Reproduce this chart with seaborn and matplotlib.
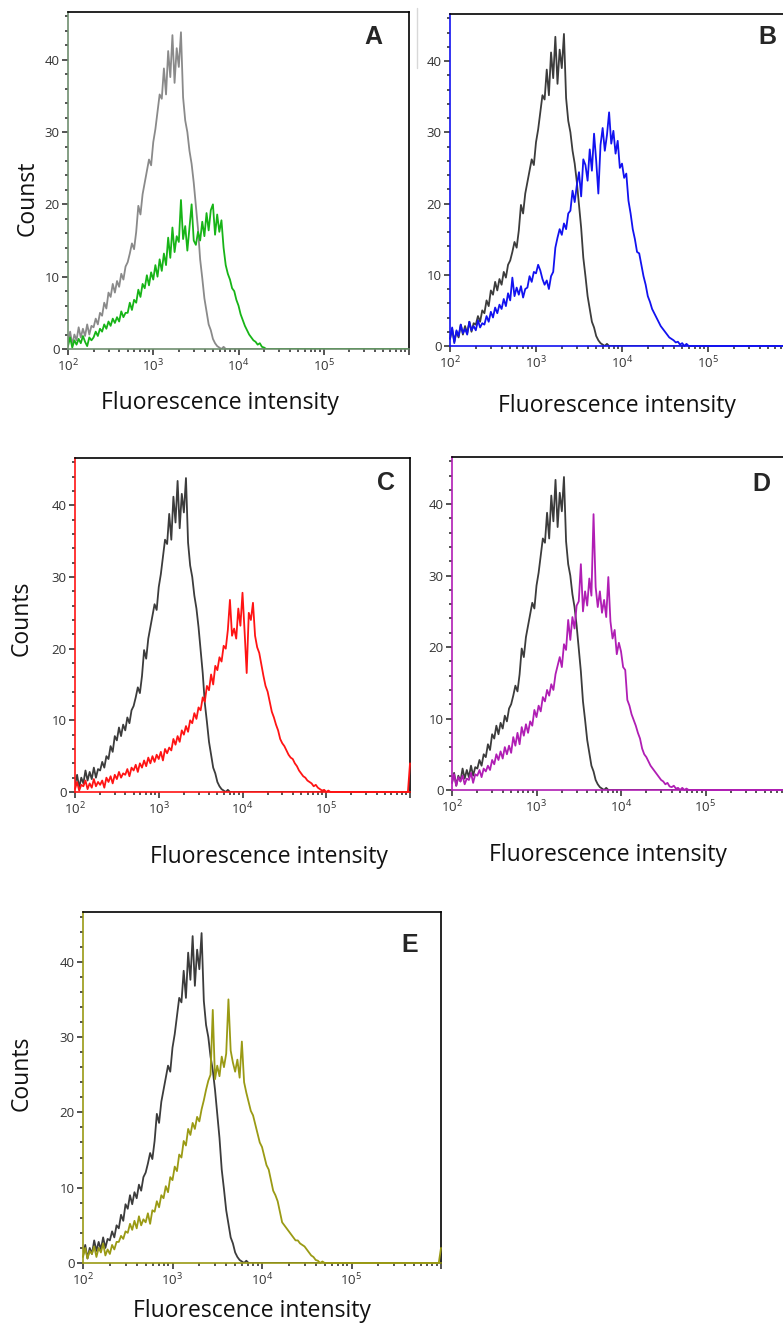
import numpy as np
import matplotlib.pyplot as plt
import matplotlib.ticker as mticker
from matplotlib.lines import Line2D
import seaborn as sns

sns.set_style('ticks')
plt.rcParams['font.family'] = ['Open Sans', 'DejaVu Sans']
plt.rcParams['mathtext.fontset'] = 'custom'
plt.rcParams['mathtext.rm'] = 'Open Sans'

# cytometer channels: 0.025 decade bins from 10^2 to 10^6
n_bins = 161
log_channel = 2.0 + 0.025 * np.arange(n_bins)
intensity = 10 ** log_channel

# counts, starting at 10^2 (rest of the bins are 0)
control = [1.0, 2.4, 0.6, 2.0, 1.2, 3.0, 1.6, 2.8, 1.8, 3.4, 2.0, 3.2,
           3.0, 4.2, 3.4, 5.0, 4.6, 6.4, 5.6, 7.8, 7.2, 9.0, 7.8, 9.4,
           8.6, 10.4, 9.6, 11.4, 12.0, 13.2, 14.6, 13.8, 16.2, 19.8, 18.6, 21.4,
           23.0, 24.6, 26.2, 25.4, 28.6, 30.4, 32.8, 35.2, 34.6, 38.8, 35.2, 41.2,
           37.6, 43.4, 36.8, 41.6, 39.0, 43.8, 34.8, 31.6, 30.0, 27.4, 25.6, 23.0,
           19.8, 16.6, 12.4, 9.8, 7.0, 5.2, 3.4, 2.6, 1.4, 0.8, 0.4, 0.2, 0.0, 0.3]

green = [0.4, 1.6, 0.2, 1.2, 0.6, 1.4, 0.8, 1.8, 1.0, 0.4, 1.6, 1.2,
         1.6, 2.4, 1.8, 2.8, 2.4, 3.4, 2.8, 3.8, 3.2, 4.2, 3.6, 4.4,
         3.8, 5.2, 4.4, 5.0, 5.0, 6.4, 5.4, 6.8, 6.4, 8.2, 7.2, 9.0,
         8.4, 10.2, 8.8, 10.6, 9.6, 11.6, 10.0, 12.4, 10.8, 13.2, 11.6, 15.4,
         12.6, 16.8, 13.4, 15.6, 14.8, 20.6, 15.2, 17.0, 13.6, 16.8, 20.0, 15.0,
         14.4, 16.2, 15.0, 17.6, 15.6, 18.8, 16.4, 19.2, 20.0, 15.8, 18.6, 16.2,
         17.8, 14.0, 11.6, 10.4, 9.6, 8.4, 8.0, 6.8, 6.0, 4.8, 4.0, 3.2,
         2.6, 2.0, 1.6, 1.2, 1.0, 0.6, 0.8, 0.3, 0.2, 0.0]

blue = [1.0, 2.6, 0.4, 2.2, 1.4, 3.0, 1.8, 2.4, 1.6, 3.4, 2.2, 2.8,
        2.2, 3.6, 2.6, 3.2, 3.0, 4.2, 3.4, 4.8, 4.0, 5.4, 4.6, 5.8,
        5.2, 6.6, 5.6, 7.4, 6.4, 9.6, 7.0, 8.2, 7.2, 8.4, 6.8, 8.0,
        8.2, 9.8, 9.0, 10.4, 10.2, 11.4, 10.6, 9.4, 8.6, 9.2, 8.0, 9.8,
        10.4, 13.8, 15.2, 16.4, 15.6, 17.2, 16.4, 18.6, 19.0, 21.8, 20.2, 22.6,
        24.4, 21.0, 26.2, 25.4, 23.2, 27.6, 24.6, 29.8, 26.0, 21.4, 28.2, 30.6,
        27.4, 29.6, 32.8, 28.4, 30.2, 27.0, 28.8, 25.0, 25.6, 23.6, 24.2, 20.4,
        18.6, 16.4, 15.0, 13.2, 13.0, 11.4, 9.8, 8.6, 7.0, 6.2, 5.2, 4.6,
        4.0, 3.4, 2.8, 2.4, 2.0, 1.6, 1.2, 1.0, 0.8, 0.5, 0.6, 0.2,
        0.4, 0.0, 0.3, 0.0]

red = [0.4, 1.4, 0.2, 1.0, 0.8, 1.6, 0.4, 1.2, 0.6, 1.8, 0.8, 1.4,
       1.0, 1.6, 0.6, 2.0, 1.4, 2.2, 1.2, 2.4, 1.8, 2.8, 2.0, 2.6,
       2.4, 3.2, 2.2, 3.4, 3.0, 3.8, 2.8, 4.0, 3.4, 4.4, 3.6, 4.8,
       4.0, 5.0, 4.2, 5.2, 4.6, 5.6, 4.4, 6.0, 5.4, 6.2, 5.8, 7.4,
       6.6, 7.8, 7.0, 8.6, 8.0, 9.2, 8.4, 10.0, 9.6, 11.0, 10.2, 11.8,
       11.4, 13.2, 12.6, 14.8, 14.2, 16.4, 15.0, 17.6, 17.0, 18.8, 18.2, 20.4,
       20.0, 22.6, 26.8, 21.8, 22.8, 21.4, 25.6, 23.2, 27.8, 22.4, 16.6, 25.0,
       24.0, 26.4, 21.8, 20.2, 19.4, 17.8, 16.2, 14.8, 14.0, 12.6, 11.2, 10.4,
       9.4, 8.6, 7.4, 6.8, 6.4, 5.8, 5.2, 4.8, 4.6, 4.0, 3.6, 3.0,
       2.6, 2.2, 2.0, 1.6, 1.4, 1.2, 0.8, 1.0, 0.6, 0.4, 0.2, 0.3,
       0.0, 0.2]

magenta = [1.0, 2.2, 0.6, 1.8, 1.2, 2.0, 0.8, 1.6, 1.4, 2.4, 1.0, 2.2,
           2.0, 2.8, 1.8, 3.0, 2.6, 3.4, 2.8, 4.2, 3.6, 5.0, 4.2, 5.4,
           4.4, 6.0, 5.0, 6.2, 5.2, 7.4, 6.2, 8.0, 6.4, 8.8, 7.6, 9.2,
           8.0, 9.6, 9.0, 11.2, 10.2, 11.8, 11.0, 13.0, 12.4, 14.0, 13.2, 14.8,
           14.0, 16.2, 17.4, 18.6, 17.2, 20.4, 19.6, 23.8, 21.0, 24.2, 22.6, 25.8,
           26.4, 31.6, 25.0, 27.8, 25.8, 29.6, 27.2, 38.6, 28.4, 25.6, 27.8, 24.8,
           26.6, 24.2, 29.8, 23.6, 21.2, 22.4, 19.0, 20.6, 19.4, 17.2, 16.8, 12.6,
           11.8, 10.6, 9.8, 9.0, 8.0, 7.2, 5.8, 5.0, 4.6, 4.0, 3.4, 3.0,
           2.6, 2.2, 1.8, 1.4, 1.2, 0.8, 1.0, 0.5, 0.4, 0.6, 0.2, 0.3,
           0.0, 0.3, 0.0, 0.2]

olive = [0.8, 2.0, 0.6, 1.6, 1.2, 2.2, 0.8, 2.0, 1.4, 2.6, 1.0, 1.8,
         1.2, 2.4, 1.8, 2.8, 2.8, 3.6, 3.2, 4.2, 4.0, 5.2, 4.4, 5.6,
         4.6, 6.2, 5.0, 5.8, 5.4, 6.6, 5.2, 7.0, 6.8, 8.2, 7.4, 9.0,
         8.6, 10.2, 9.4, 11.4, 11.0, 12.8, 12.2, 14.4, 14.0, 16.2, 15.6, 17.8,
         17.0, 18.6, 17.8, 19.4, 18.8, 20.4, 21.6, 23.0, 24.2, 25.0, 33.6, 24.4,
         26.2, 24.8, 27.4, 26.0, 27.8, 35.0, 28.2, 26.6, 25.4, 27.0, 24.6, 29.4,
         24.0, 22.6, 21.4, 20.2, 19.6, 18.4, 17.2, 16.0, 15.4, 14.2, 13.0, 12.4,
         11.0, 9.6, 9.0, 8.2, 6.8, 5.4, 5.0, 4.6, 4.2, 3.8, 3.4, 3.0,
         3.0, 2.6, 2.4, 2.2, 1.8, 1.4, 1.0, 0.8, 0.4, 0.3, 0.0, 0.2]

# last channel (10^6) pile-up seen on the right edge
red_edge = 4.0
olive_edge = 2.0

tick_values = [1e2, 1e3, 1e4, 1e5, 1e6]
tick_labels = [r'$\mathregular{10^{2}}$', r'$\mathregular{10^{3}}$',
               r'$\mathregular{10^{4}}$', r'$\mathregular{10^{5}}$', '']


def full_counts(vals, edge=0.0):
    out = np.zeros(n_bins)
    out[:len(vals)] = vals
    out[-1] = edge
    return out


W, H = 783, 1325
fig = plt.figure(figsize=(W / 100, H / 100), dpi=100)


def px(x, y):
    return x / W, 1 - y / H


# left, top, right, bottom of each plot box in pixels
panels = [
    dict(letter='A', counts=full_counts(green), color='#17b417', spine='#6f8f6f',
         ctrl='#8a8a8a', box=(68, 12, 409, 349), ylab='Counst', ylab_xy=(28, 198),
         xlab_xy=(220, 403), letter_xy=(373, 37), on_top=False),
    dict(letter='B', counts=full_counts(blue), color='#1212f0', spine='#1212f0',
         ctrl='#3c3c3c', box=(450, 14, 794, 346), ylab=None, ylab_xy=None,
         xlab_xy=(617, 406), letter_xy=(767, 37), on_top=True),
    dict(letter='C', counts=full_counts(red, red_edge), color='#ff1414', spine='#ff1414',
         ctrl='#3c3c3c', box=(75, 458, 410, 792), ylab='Counts', ylab_xy=(22, 618),
         xlab_xy=(269, 857), letter_xy=(386, 483), on_top=True),
    dict(letter='D', counts=full_counts(magenta), color='#b01eb4', spine='#b01eb4',
         ctrl='#3c3c3c', box=(452, 457, 790, 790), ylab=None, ylab_xy=None,
         xlab_xy=(608, 855), letter_xy=(761, 484), on_top=True),
    dict(letter='E', counts=full_counts(olive, olive_edge), color='#9a9a14', spine='#9a9a14',
         ctrl='#3c3c3c', box=(83, 912, 441, 1263), ylab='Counts', ylab_xy=(22, 1073),
         xlab_xy=(252, 1311), letter_xy=(410, 945), on_top=True),
]

ctrl_counts = full_counts(control)

for p in panels:
    l, t, r, b = p['box']
    ax = fig.add_axes([l / W, 1 - b / H, (r - l) / W, (b - t) / H])

    sns.lineplot(x=intensity, y=ctrl_counts, ax=ax, color=p['ctrl'], lw=1.3,
                 errorbar=None)
    sns.lineplot(x=intensity, y=p['counts'], ax=ax, color=p['color'], lw=1.3,
                 errorbar=None)
    if p['on_top']:
        ax.lines[-1].set_zorder(3)
        ax.lines[-1].set_clip_on(False)

    ax.set_xscale('log')
    ax.set_xlim(1e2, 1e6)
    ax.set_ylim(0, 46.6)
    ax.set_xticks(tick_values)
    ax.set_xticklabels(tick_labels)
    ax.xaxis.set_minor_locator(mticker.LogLocator(base=10, subs=np.arange(2, 10)))
    ax.xaxis.set_minor_formatter(mticker.NullFormatter())
    ax.set_yticks([0, 10, 20, 30, 40])
    ax.yaxis.set_minor_locator(mticker.MultipleLocator(2))
    ax.tick_params(which='major', direction='out', length=4, width=1.1,
                   labelsize=9.5, labelcolor='#333333', pad=2)
    ax.tick_params(which='minor', direction='out', length=2.5, width=1.1)
    ax.set_xlabel('')
    ax.set_ylabel('')

    for side in ['top', 'right']:
        ax.spines[side].set_color('black')
        ax.spines[side].set_linewidth(1.2)
    for side in ['left', 'bottom']:
        ax.spines[side].set_color(p['spine'])
        ax.spines[side].set_linewidth(1.2)

    fig.text(*px(*p['xlab_xy']), 'Fluorescence intensity', fontsize=16.5,
             ha='center', va='center', color='#111111')
    if p['ylab']:
        fig.text(*px(*p['ylab_xy']), p['ylab'], fontsize=16.5, rotation=90,
                 ha='center', va='center', color='#111111')
    fig.text(*px(*p['letter_xy']), p['letter'], fontsize=18, fontweight='bold',
             family=['Liberation Sans', 'DejaVu Sans'], ha='center', va='center')

# faint scan edge between panels A and B
fig.add_artist(Line2D([417 / W, 417 / W], [1 - 8 / H, 1 - 68 / H],
                      color='#d8d8d8', lw=1.0))

fig.savefig('out.png', dpi=100)
